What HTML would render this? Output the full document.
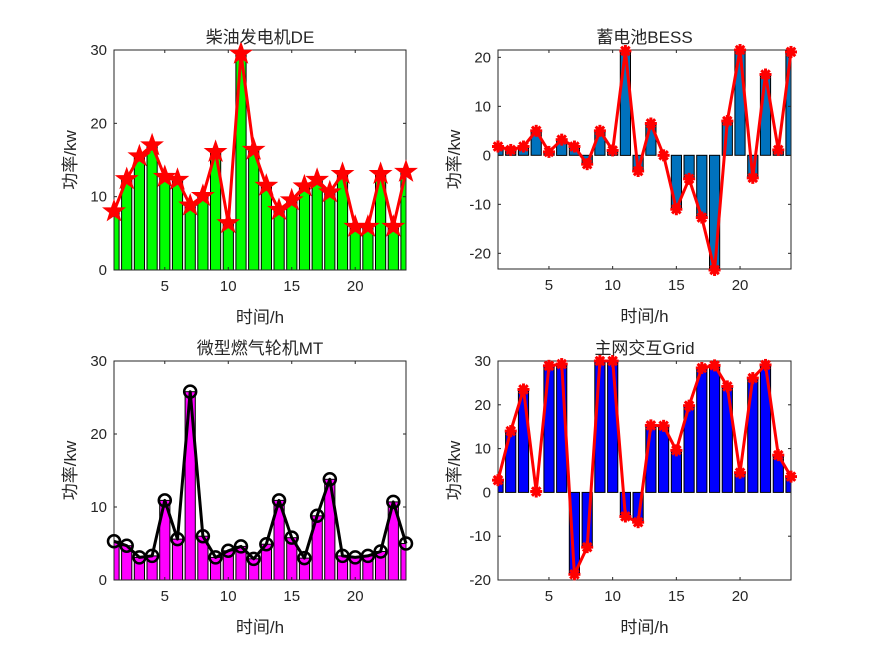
<!DOCTYPE html>
<html><head><meta charset="utf-8"><style>
body{margin:0;background:#fff}
svg text{font-family:"Liberation Sans","Noto Sans CJK SC",sans-serif;fill:#262626}
</style></head><body>
<svg id="s" width="875" height="656" xmlns="http://www.w3.org/2000/svg"></svg>
<script>
const S=document.getElementById('s');let h='';
const plots=[
 {x0:114,x1:406,y0:50,y1:270,ymin:0,ymax:30,ticks:[0,10,20,30],title:'柴油发电机DE',bar:'#00ff00',line:'#ff0000',mk:'star',
  d:[8,12.4,15.5,17,12.7,12.3,8.8,10.1,16.1,6.4,29.5,16.4,11.5,8.2,9.5,11.4,12.3,10.6,13.1,5.9,5.9,13.1,5.9,13.4]},
 {x0:498,x1:791,y0:50,y1:269,ymin:-23.2,ymax:21.5,ticks:[-20,-10,0,10,20],title:'蓄电池BESS',bar:'#0072bd',line:'#ff0000',mk:'ast',
  d:[1.8,1.1,1.8,5,0.7,3.2,1.8,-1.8,5,1,21.3,-3.2,6.5,0,-11,-4.8,-12.7,-23.4,7,21.5,-4.6,16.5,1.1,21.1]},
 {x0:114,x1:406,y0:361,y1:580,ymin:0,ymax:30,ticks:[0,10,20,30],title:'微型燃气轮机MT',bar:'#ff00ff',line:'#000000',mk:'circ',
  d:[5.3,4.7,3.1,3.3,10.9,5.6,25.8,6.0,3.1,4.0,4.6,2.9,4.9,10.9,5.8,3.0,8.8,13.8,3.3,3.1,3.3,3.9,10.7,5.0]},
 {x0:498,x1:791,y0:361,y1:580,ymin:-20,ymax:30,ticks:[-20,-10,0,10,20,30],title:'主网交互Grid',bar:'#0000ff',line:'#ff0000',mk:'ast',
  d:[2.8,14,23.5,0.2,28.9,29.3,-18.7,-12.5,30,30,-5.5,-6.8,15.3,15.2,9.6,19.8,28.4,29,24.2,4.5,26.1,29.1,8.5,3.6]}
];
function star(cx,cy,R){let p=[];for(let i=0;i<10;i++){const r=i%2?R*0.4:R;const a=-Math.PI/2+i*Math.PI/5;p.push((cx+r*Math.cos(a)).toFixed(1)+','+(cy+r*Math.sin(a)).toFixed(1));}return `<polygon points="${p.join(' ')}" fill="#f00" stroke="#f00" stroke-width="1"/>`;}
function ast(cx,cy){let s='';for(let i=0;i<4;i++){const a=i*Math.PI/4;const dx=6*Math.cos(a),dy=6*Math.sin(a);s+=`<line x1="${cx-dx}" y1="${cy-dy}" x2="${cx+dx}" y2="${cy+dy}" stroke="#f00" stroke-width="3"/>`;}return s+`<circle cx="${cx}" cy="${cy}" r="4" fill="#f00"/>`;}
for(const p of plots){
 const X=v=>p.x0+(v-1)*(p.x1-p.x0)/23, Y=v=>p.y1-(v-p.ymin)*(p.y1-p.y0)/(p.ymax-p.ymin);
 h+=`<defs><clipPath id="c${p.x0}${p.y0}"><rect x="${p.x0}" y="${p.y0}" width="${p.x1-p.x0}" height="${p.y1-p.y0}"/></clipPath></defs>`;
 h+=`<g clip-path="url(#c${p.x0}${p.y0})">`;
 const z=Y(0);
 p.d.forEach((v,i)=>{const xc=X(i+1),w=0.8*(p.x1-p.x0)/23;const y=Math.min(Y(v),z),hh=Math.abs(Y(v)-z);
  h+=`<rect x="${(xc-w/2).toFixed(1)}" y="${y.toFixed(1)}" width="${w.toFixed(1)}" height="${hh.toFixed(1)}" fill="${p.bar}" stroke="#000" stroke-width="1"/>`;});
 h+='</g>';
 h+=`<rect x="${p.x0}" y="${p.y0}" width="${p.x1-p.x0}" height="${p.y1-p.y0}" fill="none" stroke="#262626" stroke-width="1"/>`;
 for(const t of [5,10,15,20]){const x=X(t);h+=`<line x1="${x}" y1="${p.y1}" x2="${x}" y2="${p.y1-3}" stroke="#262626"/><line x1="${x}" y1="${p.y0}" x2="${x}" y2="${p.y0+3}" stroke="#262626"/><text x="${x}" y="${p.y1+21}" font-size="15" text-anchor="middle">${t}</text>`;}
 for(const t of p.ticks){const y=Y(t);h+=`<line x1="${p.x0}" y1="${y}" x2="${p.x0+3}" y2="${y}" stroke="#262626"/><line x1="${p.x1}" y1="${y}" x2="${p.x1-3}" y2="${y}" stroke="#262626"/><text x="${p.x0-7}" y="${y+5}" font-size="15" text-anchor="end">${t}</text>`;}
 h+=`<polyline points="${p.d.map((v,i)=>X(i+1).toFixed(1)+','+Y(v).toFixed(1)).join(' ')}" fill="none" stroke="${p.line}" stroke-width="3" stroke-linejoin="round"/>`;
 p.d.forEach((v,i)=>{const x=X(i+1),y=Y(v);
  if(p.mk=='star')h+=star(x,y,11);else if(p.mk=='ast')h+=ast(x,y);else h+=`<circle cx="${x}" cy="${y}" r="6" fill="none" stroke="#000" stroke-width="2.5"/>`;});
 const cx=(p.x0+p.x1)/2;
 h+=`<text x="${cx}" y="${p.y0-7}" font-size="17" text-anchor="middle" fill="#000">${p.title}</text>`;
 h+=`<text x="${cx}" y="${p.y1+53}" font-size="17" text-anchor="middle">时间/h</text>`;
 const ly=(p.y0+p.y1)/2, lx=p.x0-38;
 h+=`<text x="${lx}" y="${ly}" font-size="17" text-anchor="middle" transform="rotate(-90 ${lx} ${ly})">功率/kw</text>`;
}
S.innerHTML=h;
</script>
</body></html>
